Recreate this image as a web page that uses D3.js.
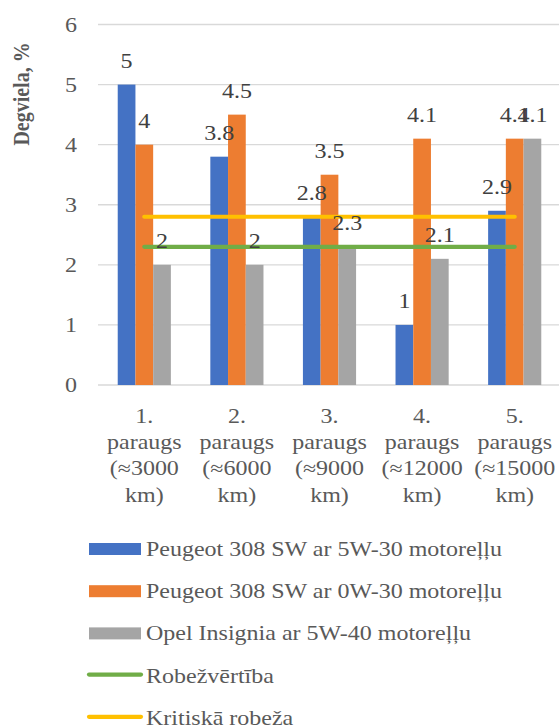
<!DOCTYPE html>
<html><head><meta charset="utf-8">
<script src="https://cdn.jsdelivr.net/npm/d3@7"></script>
<style>body{margin:0;background:#fff}svg{display:block}</style>
</head><body>
<script>
const categories = [
  ["1.", "paraugs", "(≈3000", "km)"],
  ["2.", "paraugs", "(≈6000", "km)"],
  ["3.", "paraugs", "(≈9000", "km)"],
  ["4.", "paraugs", "(≈12000", "km)"],
  ["5.", "paraugs", "(≈15000", "km)"]
];
const seriesNames = [
  "Peugeot 308 SW ar 5W-30 motoreļļu",
  "Peugeot 308 SW ar 0W-30 motoreļļu",
  "Opel Insignia ar 5W-40 motoreļļu"
];
const peugeot5W30 = [5, 3.8, 2.8, 1, 2.9];
const peugeot0W30 = [4, 4.5, 3.5, 4.1, 4.1];
const opel5W40 = [2, 2, 2.3, 2.1, 4.1];
const robezvertiba = [2.3, 2.3, 2.3, 2.3, 2.3];
const kritiska = [2.8, 2.8, 2.8, 2.8, 2.8];
const lineNames = ["Robežvērtība", "Kritiskā robeža"];
const yTicks = [0, 1, 2, 3, 4, 5, 6];
const yTitle = "Degviela, %";

const barColors = ["#4472C4", "#ED7D31", "#A5A5A5"];
const lineColors = ["#70AD47", "#FFC000"];
const W = 559, H = 727;
const FF = "Liberation Serif";
const SX = 1.2; // horizontal stretch of the reference's text

const svg = d3.select("body").append("svg").attr("width", W).attr("height", H)
  .attr("font-family", FF);

function txt(parent, x, y, s, opts) {
  opts = opts || {};
  return parent.append("text")
    .attr("font-family", FF)
    .attr("transform", `translate(${x},${y}) scale(${SX},1)`)
    .attr("text-anchor", opts.anchor || "start")
    .attr("font-size", opts.size || 20)
    .attr("fill", opts.fill || "#595959")
    .attr("dy", opts.dy || null)
    .text(s);
}

const catKeys = categories.map((c, i) => i);
const x = d3.scaleBand().domain(catKeys).range([98, 561]).paddingInner(0).paddingOuter(0);
const y = d3.scaleLinear().domain([0, 6]).range([385, 24.5]);
const groupW = x.bandwidth() * 0.574;
const xs = d3.scaleBand().domain([0, 1, 2]).range([-groupW / 2, groupW / 2]);

// gridlines
svg.append("g").selectAll("line").data(yTicks).join("line")
  .attr("x1", 98).attr("x2", W)
  .attr("y1", d => y(d)).attr("y2", d => y(d))
  .attr("stroke", "#d9d9d9").attr("stroke-width", 1.3);

// y axis tick labels
const yl = svg.append("g");
yTicks.forEach(t => txt(yl, 77, y(t), t, {anchor: "end", dy: "0.35em"}));

// y title
svg.append("text").attr("transform", `translate(29,94) scale(${SX},1) rotate(-90)`)
  .attr("font-family", FF)
  .attr("text-anchor", "middle").attr("font-size", 20).attr("font-weight", "bold")
  .attr("fill", "#595959").text(yTitle);

const series = [peugeot5W30, peugeot0W30, opel5W40];
series.forEach((vals, si) => {
  svg.append("g").selectAll("rect").data(vals).join("rect")
    .attr("x", (d, i) => x(i) + x.bandwidth() / 2 + xs(si))
    .attr("width", xs.bandwidth())
    .attr("y", d => y(d)).attr("height", d => y(0) - y(d))
    .attr("fill", barColors[si]);
});

// lines
[robezvertiba, kritiska].forEach((vals, li) => {
  const line = d3.line().x((d, i) => x(i) + x.bandwidth() / 2).y(d => y(d));
  svg.append("path").datum(vals).attr("d", line)
    .attr("fill", "none").attr("stroke", lineColors[li]).attr("stroke-width", 4.2)
    .attr("stroke-linecap", "round");
});

// data labels
const dl = svg.append("g");
series.forEach((vals, si) => {
  vals.forEach((v, i) => {
    txt(dl, x(i) + x.bandwidth() / 2 + xs(si) + xs.bandwidth() / 2, y(v) - 16.5, v,
      {anchor: "middle", fill: "#404040"});
  });
});

// x labels
const xl = svg.append("g");
categories.forEach((lines, i) => {
  lines.forEach((s, j) => {
    txt(xl, x(i) + x.bandwidth() / 2, 423 + j * 26.2, s, {anchor: "middle"});
  });
});

// legend
const legendItems = seriesNames.map((n, i) => ({name: n, type: "bar", color: barColors[i]}))
  .concat(lineNames.map((n, i) => ({name: n, type: "line", color: lineColors[i]})));
const lg = svg.append("g");
legendItems.forEach((it, i) => {
  const cy = 549 + i * 42.2;
  if (it.type === "bar") {
    lg.append("rect").attr("x", 89).attr("y", cy - 6).attr("width", 52).attr("height", 12).attr("fill", it.color);
  } else {
    lg.append("line").attr("x1", 89).attr("x2", 141).attr("y1", cy - 1).attr("y2", cy - 1)
      .attr("stroke", it.color).attr("stroke-width", 4.2).attr("stroke-linecap", "round");
  }
  txt(lg, 146, cy + 7, it.name);
});
</script>
</body></html>
